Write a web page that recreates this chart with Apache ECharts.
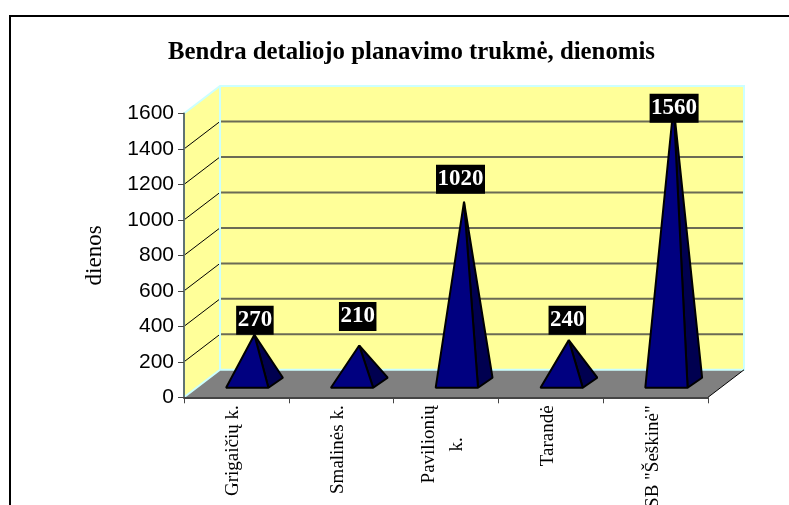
<!DOCTYPE html>
<html lang="lt">
<head>
<meta charset="UTF-8">
<style>
  html, body { margin: 0; padding: 0; background: #fff; }
  #chart { width: 789px; height: 505px; }
</style>
<script src="https://cdn.jsdelivr.net/npm/echarts@6/dist/echarts.min.js"></script>
</head>
<body>
<div id="chart"></div>
<script>
// values
const categories = ['Grigaičių k.', 'Smalinės k.', 'Pavilionių\nk.', 'Tarandė', 'SB "Šeškinė"'];
const durations = [270, 210, 1020, 240, 1560];
const yTicks = [0, 200, 400, 600, 800, 1000, 1200, 1400, 1600];

// fake 3D room
const depthX = 36, depthY = 27.5;
const serif = '"Liberation Serif", serif';

// value boxes were placed by hand in the original: nudge from each pyramid tip, px
const labelShift = [0.5, -1.5, -3.5, -1.5, 0.5];
const labelLift = [0, 14.4, 8, 5.4, -16.7];

function renderRoom(params, api) {
    const g = params.coordSys;
    const left = g.x, right = g.x + g.width;
    const y0 = api.coord([0, 0])[1], yTop = api.coord([0, 1600])[1];
    const kids = [];
    // side wall, back wall, floor
    kids.push({ type: 'polygon', shape: { points: [[left, y0], [left + depthX, y0 - depthY], [left + depthX, yTop - depthY], [left, yTop]] },
        style: { fill: '#ffff99', stroke: null } });
    kids.push({ type: 'rect', shape: { x: left + depthX, y: yTop - depthY, width: g.width, height: y0 - yTop },
        style: { fill: '#ffff99', stroke: null } });
    kids.push({ type: 'polygon', shape: { points: [[left, y0], [left + depthX, y0 - depthY], [right + depthX, y0 - depthY], [right, y0]] },
        style: { fill: '#808080', stroke: null } });
    // grid lines go round the two walls
    yTicks.slice(1, -1).forEach(function (v) {
        const y = api.coord([0, v])[1];
        kids.push({ type: 'line', shape: { x1: left, y1: y, x2: left + depthX, y2: y - depthY }, style: { stroke: '#000', lineWidth: 1 } });
        kids.push({ type: 'line', shape: { x1: left + depthX, y1: y - depthY, x2: right + depthX, y2: y - depthY }, style: { stroke: '#6b6b55', lineWidth: 2 } });
    });
    // light cyan wall edges
    kids.push({ type: 'polyline', shape: { points: [[left, yTop], [left + depthX, yTop - depthY], [right + depthX, yTop - depthY], [right + depthX, y0 - depthY], [left + depthX, y0 - depthY], [left, y0]] },
        style: { stroke: '#ccffff', lineWidth: 2, fill: null } });
    kids.push({ type: 'line', shape: { x1: left + depthX, y1: yTop - depthY, x2: left + depthX, y2: y0 - depthY }, style: { stroke: '#ccffff', lineWidth: 2 } });
    kids.push({ type: 'line', shape: { x1: right, y1: y0, x2: right + depthX, y2: y0 - depthY }, style: { stroke: '#000', lineWidth: 1 } });
    return { type: 'group', children: kids };
}

function renderPyramid(params, api) {
    const i = api.value(0);
    const base = api.coord([i, 0]);
    const top = api.coord([i, api.value(1)]);
    const cx = base[0], y0 = base[1];
    const fl = [cx - 10.3, y0 - 9.6];
    const fr = [cx + 32, y0 - 9.6];
    const br = [cx + 46.5, y0 - 19.6];
    const tip = [cx + 18, top[1] - 14.6];
    const edge = { stroke: '#000', lineWidth: 2, lineJoin: 'bevel' };
    return {
        type: 'group',
        children: [
            { type: 'polygon', shape: { points: [tip, fr, br] }, style: Object.assign({ fill: '#000050' }, edge) },
            { type: 'polygon', shape: { points: [tip, fl, fr] }, style: Object.assign({ fill: '#000080' }, edge) },
            {
                type: 'text',
                z2: 10,
                style: {
                    x: tip[0] + labelShift[params.dataIndex],
                    y: tip[1] - labelLift[params.dataIndex],
                    text: String(api.value(1)),
                    fill: '#fff',
                    font: 'bold 23px ' + serif,
                    align: 'center',
                    verticalAlign: 'bottom',
                    backgroundColor: '#000',
                    padding: [3, 1.5, 3, 1.5]
                }
            }
        ]
    };
}

const chart = echarts.init(document.getElementById('chart'));
chart.setOption({
    animation: false,
    backgroundColor: '#fff',
    title: {
        text: 'Bendra detaliojo planavimo trukmė, dienomis',
        left: 163,
        top: 35,
        textStyle: { fontFamily: serif, fontWeight: 'bold', fontSize: 24.8, color: '#000' }
    },
    graphic: [
        { type: 'polyline', shape: { points: [[10, 505], [10, 16], [789, 16]] }, style: { stroke: '#000', lineWidth: 2, fill: null } }
    ],
    grid: { left: 184, top: 113.5, width: 524, height: 283.8, outerBoundsMode: 'none' },
    xAxis: {
        type: 'category',
        data: categories,
        z: 5,
        axisLine: { lineStyle: { color: '#444', width: 2 } },
        axisTick: { show: true, alignWithLabel: false, length: 6, lineStyle: { color: '#444', width: 1 } },
        axisLabel: {
            interval: 0,
            rotate: 90,
            margin: 8,
            padding: [0, 0, 6, 0],
            fontFamily: serif,
            fontSize: 19,
            color: '#000',
            lineHeight: 28,
            formatter: function (v) {
                const parts = v.split('\n');
                return parts.length > 1 ? '{a|' + parts[0] + '}\n{c|' + parts[1] + '}' : v;
            },
            rich: {
                a: { fontFamily: serif, fontSize: 19, color: '#000', lineHeight: 28 },
                c: { fontFamily: serif, fontSize: 19, color: '#000', lineHeight: 28, align: 'center' }
            }
        }
    },
    yAxis: {
        type: 'value',
        min: 0,
        max: 1600,
        interval: 200,
        z: 5,
        name: 'dienos',
        nameLocation: 'middle',
        nameGap: 78,
        nameTextStyle: { fontFamily: serif, fontSize: 23, color: '#000' },
        axisLine: { show: true, lineStyle: { color: '#5f7373', width: 2 } },
        axisTick: { show: true, length: 6, lineStyle: { color: '#444', width: 1 } },
        axisLabel: {
            margin: 10,
            fontFamily: '"Liberation Sans", sans-serif',
            fontSize: 21,
            color: '#000',
            formatter: function (v) { return String(v); }
        },
        splitLine: { show: false }
    },
    series: [
        { type: 'custom', z: 1, silent: true, renderItem: renderRoom, data: [[0, 0]] },
        {
            type: 'custom',
            z: 6,
            renderItem: renderPyramid,
            encode: { x: 0, y: 1 },
            data: durations.map(function (v, i) { return [i, v]; })
        }
    ]
});
</script>
</body>
</html>
